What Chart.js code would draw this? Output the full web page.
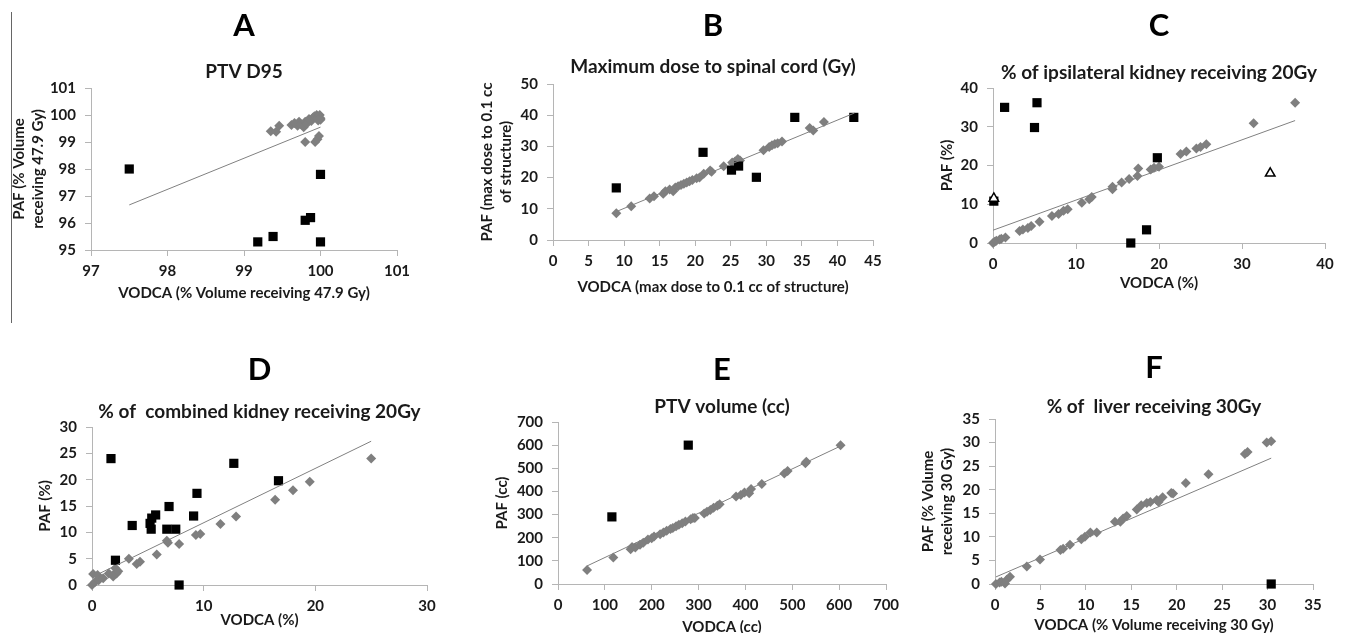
<!DOCTYPE html>
<html>
<head>
<meta charset="utf-8">
<script src="https://cdn.jsdelivr.net/npm/chart.js@4"></script>
<style>
  html, body { margin: 0; padding: 0; background: #fff; overflow: hidden; }
  body { width: 1346px; height: 633px; position: relative; }
  canvas { position: absolute; }
  #edge { position: absolute; left: 11px; top: 12px; width: 1px; height: 311px; background: #666; }
</style>
</head>
<body>
<div id="edge"></div>
<script>
// A - PTV D95
const aGray = [[99.35,99.4],[99.42,99.38],[99.46,99.6],[99.62,99.63],[99.66,99.7],[99.7,99.6],[99.72,99.75],[99.75,99.65],[99.78,99.55],[99.8,99.75],[99.82,99.68],[99.85,99.85],[99.88,99.78],[99.9,99.9],[99.92,99.95],[99.95,100],[99.97,99.92],[99.99,100],[100,99.88],[100,99.82],[99.97,99.8],[99.8,99.0],[99.93,99.0],[99.96,99.1],[99.98,99.22]];
const aBlack = [[97.5,98.0],[100,97.8],[99.8,96.1],[99.87,96.2],[99.38,95.5],[99.18,95.3],[100,95.3]];
const aTrend = [[97.5,96.67],[100,99.55]];

// B - max dose to spinal cord
const bGray = [[8.9,8.6],[11,10.8],[13.6,13.3],[14.2,14],[15.5,14.8],[15.8,15.6],[16.4,16.2],[16.9,15.6],[17.2,16.8],[17.6,17.2],[18,17.6],[18.4,18],[18.8,18.4],[19.2,18.8],[19.6,19.2],[20.2,19.8],[20.6,20.0],[21.2,21.2],[22.3,21.9],[22.1,22.3],[24,23.6],[25.2,24.8],[25.6,25.2],[26.3,25.5],[26,26],[29.6,28.8],[30.4,29.8],[30.8,30.4],[31.2,30.8],[31.6,31],[32.2,31.6],[36.1,35.9],[36.6,35.1],[38.1,37.8]];
const bBlack = [[8.9,16.7],[21.1,28.1],[25.1,22.4],[26.1,23.7],[28.6,20.1],[34,39.3],[42.3,39.3]];
const bTrend = [[8.9,9.1],[42.4,40.7]];

// C - ipsilateral kidney V20
const cGray = [[0,0],[0.2,0.3],[0.4,0.6],[0.8,0.9],[1.0,1.1],[1.5,1.4],[3.2,3.1],[3.6,3.5],[4.2,3.9],[4.6,4.4],[5.6,5.5],[7.1,7.0],[7.9,7.5],[8.5,8.3],[9.0,8.7],[10.7,10.4],[11.6,11.3],[11.9,11.9],[14.4,13.9],[14.4,14.5],[15.5,15.6],[16.4,16.5],[17.4,17.3],[17.5,19.2],[19.0,19.0],[19.4,19.4],[20.0,19.7],[22.6,23.0],[23.3,23.6],[24.5,24.4],[25.0,24.8],[25.7,25.5],[31.4,30.9],[36.4,36.2]];
const cBlack = [[1.4,35],[5.3,36.2],[5.0,29.8],[19.8,22],[18.5,3.4],[16.6,0],[0.1,10.8]];
const cOpen = [[0.1,11.5],[33.4,18.0]];
const cTrend = [[0,3.3],[36.4,31.6]];

// D - combined kidney V20
const dGray = [[0,0],[0.1,2.1],[0.3,0.6],[0.5,1.9],[0.6,0.9],[1.0,1.3],[1.5,2.2],[1.9,1.9],[1.9,1.6],[2.2,2.2],[2.35,2.6],[2.1,3.2],[3.3,5.0],[4.0,4.0],[4.3,4.4],[5.8,5.8],[6.7,8.4],[6.8,8.0],[7.8,7.8],[9.3,9.5],[9.7,9.7],[11.5,11.6],[12.9,13.0],[16.4,16.2],[18.0,18.0],[19.5,19.6],[25,24]];
const dBlack = [[1.7,24],[12.7,23.1],[16.7,19.8],[9.4,17.4],[6.9,14.9],[9.1,13.1],[3.6,11.3],[5.2,11.7],[5.35,12.7],[5.7,13.3],[5.3,10.6],[6.7,10.6],[7.5,10.6],[2.1,4.7],[7.8,0]];
const dTrend = [[0,1.5],[25,27.3]];

// E - PTV volume
const eGray = [[62,60],[118,115],[155,150],[158,160],[165,158],[175,170],[182,178],[192,192],[200,198],[205,205],[218,215],[225,222],[232,230],[240,238],[245,242],[252,250],[258,256],[265,262],[272,270],[283,280],[288,285],[292,285],[312,305],[318,312],[325,320],[332,330],[340,338],[345,345],[380,378],[390,385],[398,395],[408,392],[412,410],[435,432],[483,478],[490,488],[528,522],[530,528],[603,600]];
const eBlack = [[115,290],[278,600]];
const eTrend = [[62,78],[603,596]];

// F - liver V30
const fGray = [[0.1,0],[0.5,0.3],[0.7,0.5],[1.1,0.1],[1.3,0.9],[1.65,1.56],[3.5,3.7],[4.95,5.2],[7.2,7.2],[7.5,7.5],[8.25,8.3],[9.5,9.5],[9.9,10.0],[10.5,10.9],[11.2,10.9],[13.2,13.2],[13.8,13.2],[14.1,13.9],[14.5,14.4],[15.6,15.8],[16.1,16.7],[16.7,17.2],[17.1,17.4],[17.8,17.8],[18.0,17.4],[18.45,18.4],[19.4,19.3],[19.6,19.2],[21.0,21.4],[23.5,23.3],[27.5,27.6],[27.8,28.0],[29.9,30.0],[30.4,30.3]];
const fBlack = [[30.4,0]];
const fTrend = [[0.1,1.5],[30.4,26.7]];

const TXT = '#1a1a1a';
const AXIS = '#b5b5b5';
const FAM = 'Lato';
const tickFont = { family: FAM, size: 15, weight: 'bold' };
const axisFont = { family: FAM, size: 15, weight: 'bold', lineHeight: 1.3 };
const letterFont = { family: FAM, size: 31, weight: 'bold', lineHeight: 1.2 };
const subFont = { family: FAM, size: 19, weight: 'bold', lineHeight: 1.2 };

const pts = arr => arr.map(p => ({ x: p[0], y: p[1] }));

const panels = [
  { letter: 'A', title: 'PTV D95', gray: aGray, black: aBlack, trend: aTrend,
    xTitle: 'VODCA (% Volume receiving 47.9 Gy)', yTitle: ['PAF (% Volume', 'receiving 47.9 Gy)'],
    x: [97, 101, 1], y: [95, 101, 1],
    top: 0, L: 91, R: 397, T: 88, B: 250, letterY: 26, subY: 72, yTitleX: 18.5, xTitleY: 293 },
  { letter: 'B', title: 'Maximum dose to spinal cord (Gy)', gray: bGray, black: bBlack, trend: bTrend,
    xTitle: 'VODCA (max dose to 0.1 cc of structure)', yTitle: ['PAF (max dose to 0.1 cc', 'of structure)'],
    x: [0, 45, 5], y: [0, 50, 10],
    top: 0, L: 553, R: 873, T: 84, B: 240, letterY: 26, subY: 67, yTitleX: 487, xTitleY: 287 },
  { letter: 'C', title: '% of ipsilateral kidney receiving 20Gy', gray: cGray, black: cBlack, open: cOpen, trend: cTrend,
    xTitle: 'VODCA (%)', yTitle: 'PAF (%)',
    x: [0, 40, 10], y: [0, 40, 10],
    top: 0, L: 993, R: 1325, T: 88, B: 243, letterY: 26, subY: 73, yTitleX: 947, xTitleY: 283 },
  { letter: 'D', title: '% of  combined kidney receiving 20Gy', gray: dGray, black: dBlack, trend: dTrend,
    xTitle: 'VODCA (%)', yTitle: 'PAF (%)',
    x: [0, 30, 10], y: [0, 30, 5],
    top: 310, L: 92, R: 427, T: 427, B: 585, letterY: 370, subY: 412, yTitleX: 45, xTitleY: 620 },
  { letter: 'E', title: 'PTV volume (cc)', gray: eGray, black: eBlack, trend: eTrend,
    xTitle: 'VODCA (cc)', yTitle: 'PAF (cc)',
    x: [0, 700, 100], y: [0, 700, 100],
    top: 310, L: 558, R: 886, T: 422, B: 584, letterY: 370, subY: 407, yTitleX: 502, xTitleY: 627 },
  { letter: 'F', title: '% of  liver receiving 30Gy', gray: fGray, black: fBlack, trend: fTrend,
    xTitle: 'VODCA (% Volume receiving 30 Gy)', yTitle: ['PAF (% Volume', 'receiving 30 Gy)'],
    x: [0, 35, 5], y: [0, 35, 5],
    top: 310, L: 995, R: 1313, T: 419, B: 584, letterY: 368, subY: 407, yTitleX: 928, xTitleY: 625 }
];

function axis(range, title, fitFn, pad) {
  return {
    type: 'linear', min: range[0], max: range[1],
    ticks: { stepSize: range[2], color: TXT, font: tickFont, padding: pad, maxRotation: 0 },
    grid: { drawOnChartArea: false, drawTicks: true, tickLength: 6, color: AXIS },
    border: { color: AXIS, width: 1 },
    title: { display: true, text: title, color: TXT, font: axisFont, padding: 0 },
    afterFit: fitFn
  };
}

panels.forEach(p => {
  const axLH = axisFont.size * axisFont.lineHeight;
  const l1 = letterFont.size * letterFont.lineHeight;
  const l2 = subFont.size * subFont.lineHeight;
  const left = Math.round(p.yTitleX - axLH / 2);
  const bottom = Math.round(p.xTitleY + axLH / 2);
  const cv = document.createElement('canvas');
  cv.width = p.R + 24 - left;
  cv.height = bottom - p.top;
  cv.style.left = left + 'px';
  cv.style.top = p.top + 'px';
  document.body.appendChild(cv);

  const yW = p.L - left;
  const xH = bottom - p.B;
  const pt1 = (p.letterY - p.top) - l1 / 2;
  const pb1 = (p.subY - l2 / 2) - (p.letterY + l1 / 2);
  const pb2 = p.T - (p.subY + l2 / 2);

  const datasets = [
    { data: pts(p.trend), showLine: true, borderColor: '#808080', borderWidth: 1, pointRadius: 0, order: 0, clip: false },
    { data: pts(p.gray), pointStyle: 'rectRot', pointRadius: 5, backgroundColor: '#7f7f7f', borderWidth: 0, order: 3, clip: false },
    { data: pts(p.black), pointStyle: 'rect', pointRadius: 6.5, backgroundColor: '#000', borderWidth: 0, order: 2, clip: false }
  ];
  if (p.open) {
    datasets.push({ data: pts(p.open), pointStyle: 'triangle', pointRadius: 5.5, backgroundColor: '#fff', borderColor: '#000', borderWidth: 1.5, order: 1, clip: false });
  }

  new Chart(cv.getContext('2d'), {
    type: 'scatter',
    data: { datasets },
    options: {
      responsive: false,
      animation: false,
      events: [],
      layout: { padding: { left: 0, right: 24, top: 0, bottom: 0 } },
      plugins: {
        legend: { display: false },
        tooltip: { enabled: false },
        title: { display: true, text: p.letter, color: '#000', font: letterFont, fullSize: false, padding: { top: pt1, bottom: pb1 } },
        subtitle: { display: true, text: p.title, color: TXT, font: subFont, fullSize: false, padding: { top: 0, bottom: pb2 } }
      },
      scales: {
        x: axis(p.x, p.xTitle, s => { s.height = xH; }, 6),
        y: axis(p.y, p.yTitle, s => { s.width = yW; }, 9)
      }
    }
  });
});
</script>
</body>
</html>
